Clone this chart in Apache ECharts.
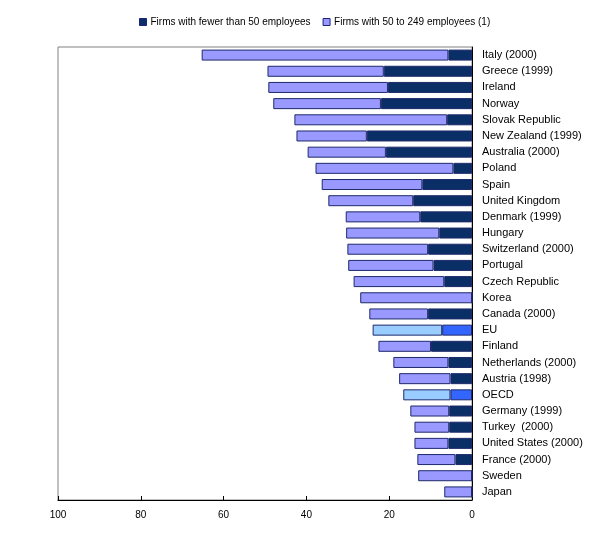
<!DOCTYPE html>
<html>
<head>
<meta charset="utf-8">
<script src="https://cdn.jsdelivr.net/npm/echarts@6/dist/echarts.min.js"></script>
<style>
  html, body { margin: 0; padding: 0; background: #fff; }
  #chart { width: 607px; height: 536px; }
</style>
</head>
<body>
<div id="chart"></div>
<script>
const countries = [
  'Italy (2000)', 'Greece (1999)', 'Ireland', 'Norway', 'Slovak Republic',
  'New Zealand (1999)', 'Australia (2000)', 'Poland', 'Spain', 'United Kingdom',
  'Denmark (1999)', 'Hungary', 'Switzerland (2000)', 'Portugal', 'Czech Republic',
  'Korea', 'Canada (2000)', 'EU', 'Finland', 'Netherlands (2000)',
  'Austria (1998)', 'OECD', 'Germany (1999)', 'Turkey  (2000)', 'United States (2000)',
  'France (2000)', 'Sweden', 'Japan'
];

// firms with fewer than 50 employees
const smallFirms = [
  5.7, 21.3, 20.3, 22.0, 6.0,
  25.4, 20.8, 4.5, 12.0, 14.2,
  12.5, 7.9, 10.6, 9.3, 6.7,
  0, 10.6, 7.2, 9.9, 5.7,
  5.2, 5.2, 5.5, 5.5, 5.7,
  4.0, 0, 0
];

// firms with 50 to 249 employees (stacked on top)
const mediumFirms = [
  59.6, 28.1, 28.9, 26.0, 36.9,
  17.0, 18.9, 33.3, 24.3, 20.5,
  18.0, 22.5, 19.5, 20.6, 21.9,
  27.0, 14.2, 16.8, 12.7, 13.3,
  12.4, 11.4, 9.4, 8.4, 8.2,
  9.2, 13.0, 6.7
];

const aggregates = ['EU', 'OECD'];
const xTicks = [0, 20, 40, 60, 80, 100];

const seriesNames = ['Firms with fewer than 50 employees', 'Firms with 50 to 249 employees (1)'];
const darkNavy = '#0a2f66';
const lavender = '#9999ff';
const aggDark = '#3366ff';
const aggLight = '#99ccff';

function toData(values, aggColor) {
  return values.map((v, i) => {
    if (aggregates.includes(countries[i])) {
      return { value: v, itemStyle: { color: aggColor } };
    }
    return v;
  });
}

const chart = echarts.init(document.getElementById('chart'));

chart.setOption({
  animation: false,
  textStyle: { fontFamily: 'Liberation Sans, Arial, sans-serif' },
  legend: {
    top: 12,
    left: 134,
    itemWidth: 7,
    itemHeight: 7,
    itemGap: 12,
    icon: 'rect',
    textStyle: { fontSize: 10, color: '#000', padding: [0, 0, 0, -1] },
    data: seriesNames.map((n, i) => ({
      name: n,
      itemStyle: { color: i === 0 ? darkNavy : lavender, borderColor: '#1a237e', borderWidth: 1 }
    }))
  },
  grid: {
    left: 58,
    right: 135,
    top: 47,
    bottom: 36,
    show: true,
    borderColor: '#808080',
    borderWidth: 1
  },
  xAxis: {
    type: 'value',
    inverse: true,
    min: 0,
    max: 100,
    interval: 20,
    axisLine: { show: true, lineStyle: { color: '#000' } },
    axisTick: { show: true, inside: true, length: 4, lineStyle: { color: '#000' } },
    axisLabel: { fontSize: 10, color: '#000', margin: 10, formatter: (v) => xTicks.includes(v) ? String(v) : '' },
    splitLine: { show: false }
  },
  yAxis: {
    type: 'category',
    inverse: true,
    position: 'right',
    data: countries,
    axisLine: { show: true, lineStyle: { color: '#000' } },
    axisTick: { show: false },
    axisLabel: { fontSize: 11, color: '#000', margin: 10 }
  },
  series: [
    {
      name: seriesNames[0],
      type: 'bar',
      stack: 'total',
      barCategoryGap: '32%',
      data: toData(smallFirms, aggDark),
      itemStyle: { color: darkNavy, borderColor: '#1f2a6b', borderWidth: 1 }
    },
    {
      name: seriesNames[1],
      type: 'bar',
      stack: 'total',
      barCategoryGap: '32%',
      data: toData(mediumFirms, aggLight),
      itemStyle: { color: lavender, borderColor: '#1f2a6b', borderWidth: 1 }
    }
  ]
});

window.addEventListener('resize', () => chart.resize());
</script>
</body>
</html>
